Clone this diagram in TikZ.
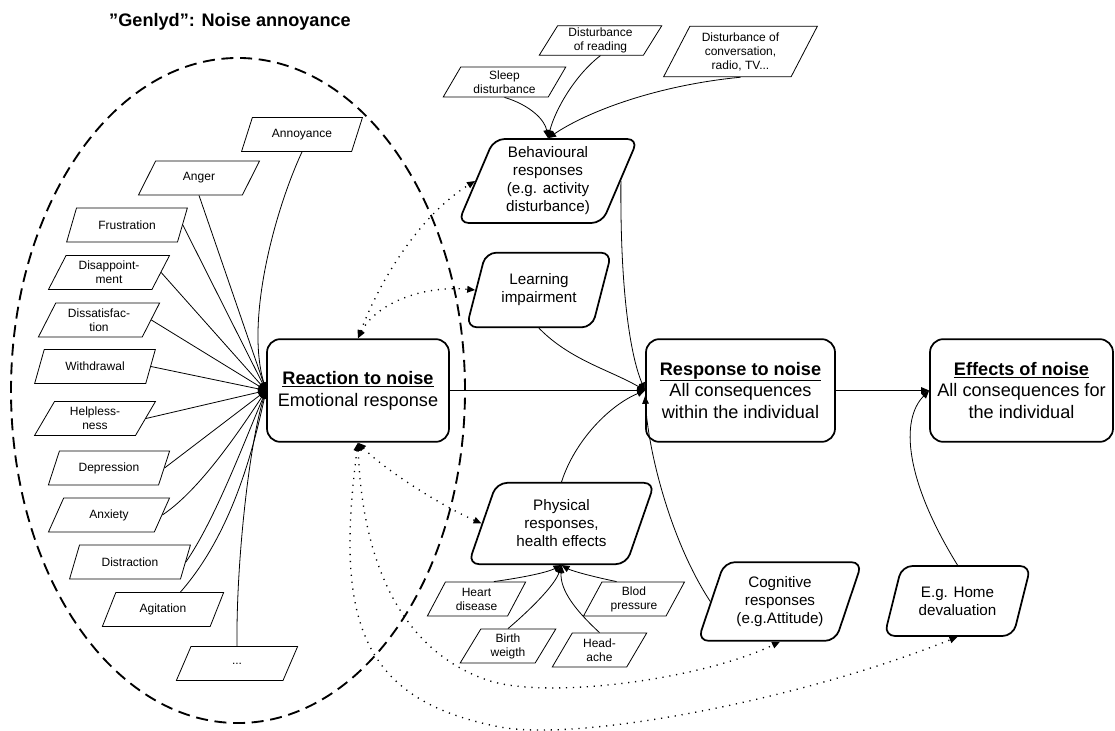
\documentclass[tikz,border=0pt]{standalone}
\usepackage{fontspec}
\setmainfont{Liberation Sans}
\usetikzlibrary{shapes.geometric, arrows.meta}

\begin{document}
\begin{tikzpicture}[
            x = 0.75pt, y = -0.75pt,
            > = {Triangle[length=6pt, width=5pt]},
  small/.style = {font=\fontsize{9}{10.5}\selectfont},
 medium/.style = {font=\fontsize{11.4}{13.5}\selectfont},
  large/.style = {font=\fontsize{13.6}{16.4}\selectfont},
   para/.style = {trapezium, trapezium left angle=63, trapezium right angle=117,
                  trapezium stretches=true, draw, line width=0.6pt,
                  inner sep=1pt, align=center, small,
                  minimum width=91pt, minimum height=25.5pt},
  rpara/.style = {trapezium, trapezium left angle=68, trapezium right angle=112,
                  trapezium stretches=true, draw, line width=1.3pt,
                  rounded corners=8pt, inner sep=1pt, align=center, medium},
   main/.style = {rectangle, draw, line width=1.3pt, rounded corners=10pt,
                  minimum height=77pt, align=center, large},
   link/.style = {line width=0.6pt, ->},
 mutual/.style = {line width=1pt, dash pattern=on 0.9pt off 4.3pt, <->}
                        ]
\useasboundingbox (0,0) rectangle (1115,731);
% title and the dashed ellipse round the emotions
\node[font=\fontsize{13.6}{16}\selectfont\bfseries] (title) at (230,22) {”Genlyd”: Noise annoyance};
\draw[line width=1.4pt, dash pattern=on 9pt off 5pt] (238,390.5) ellipse [x radius=170.25pt, y radius=249.4pt];
% main boxes
\node[main, minimum width=136.5pt] (reac) at (358,390.5) {\underline{\textbf{Reaction to noise}}\\Emotional response};
\node[main, minimum width=141.75pt] (resp) at (740.5,390.5) {\underline{\textbf{Response to noise}}\\All consequences\\within the individual};
\node[main, minimum width=137.25pt] (eff) at (1021.5,390.5) {\underline{\textbf{Effects of noise}}\\All consequences for\\the individual};
% emotions
\node[para] (ann) at (302,134.5) {Annoyance};
\node[para] (anger) at (199,178) {Anger};
\node[para] (frus) at (127,225) {Frustration};
\node[para] (disap) at (109,272.5) {Disappoint-\\ment};
\node[para] (dissat) at (99,320) {Dissatisfac-\\tion};
\node[para] (withd) at (95,366.5) {Withdrawal};
\node[para] (helpl) at (95,418.5) {Helpless-\\ness};
\node[para] (depr) at (109,468) {Depression};
\node[para] (anx) at (109,515) {Anxiety};
\node[para] (distr) at (130,562) {Distraction};
\node[para] (agit) at (163,609.5) {Agitation};
\node[para] (more) at (237,663.5) {...};
% responses
\node[rpara, minimum width=135pt, minimum height=63pt] (beh) at (548,181) {Behavioural\\responses\\(e.g. activity\\disturbance)};
\node[rpara, minimum width=109.5pt, minimum height=56pt] (learn) at (539,290) {Learning\\impairment};
\node[rpara, minimum width=140pt, minimum height=61pt] (phys) at (561.5,523.5) {Physical\\responses,\\health effects};
\node[rpara, minimum width=124pt, minimum height=59pt] (cog) at (780,601.5) {Cognitive\\responses\\(e.g.Attitude)};
\node[rpara, minimum width=110pt, minimum height=52.5pt] (home) at (957.5,601) {E.g. Home\\devaluation};
% activity disturbances
\node[para, minimum width=92pt, minimum height=22.5pt] (sleep) at (504.5,82) {Sleep\\disturbance};
\node[para, minimum width=92pt, minimum height=22pt] (read) at (600.5,40.5) {Disturbance\\of reading};
\node[para, minimum width=116pt, minimum height=38pt] (conv) at (740.5,51.5) {Disturbance of\\conversation,\\radio, TV...};
% health effects
\node[para, minimum width=74pt] (heart) at (476.5,599) {Heart\\disease};
\node[para, minimum width=72pt] (birth) at (508,646) {Birth\\weigth};
\node[para, minimum width=71pt] (head) at (599.5,650) {Head-\\ache};
\node[para, minimum width=76pt] (blod) at (634,599) {Blod\\pressure};
% emotions into the reaction
\draw[link] (ann.south) .. controls (275,210) and (245,320) .. (reac.west);
\draw[link] (anger.south) -- (reac.west);
\foreach \n in {frus, disap, dissat, withd, helpl, depr}
  \draw[link] (\n.east) -- (reac.west);
\draw[link] (anx.east) .. controls (200,490) and (240,430) .. (reac.west);
\draw[link] (distr.east) .. controls (215,520) and (245,440) .. (reac.west);
\draw[link] (agit.north east) .. controls (235,530) and (255,440) .. (reac.west);
\draw[link] (more.north) .. controls (236,560) and (250,440) .. (reac.west);
% main chain
\draw[link] (reac.east) -- (resp.west);
\draw[link] (resp.east) -- (eff.west);
\draw[link] (beh.east) .. controls (620,300) and (632,360) .. (resp.west);
\draw[link] (learn.south) .. controls (570,360) and (610,370) .. (resp.west);
\draw[link] (phys.north) .. controls (575,440) and (610,405) .. (resp.west);
\draw[link] (cog.west) .. controls (670,540) and (648,450) .. ([yshift=-4pt]resp.west);
\draw[link] (home.north) .. controls (905,480) and (900,420) .. (eff.west);
% into behaviour and physical responses
\draw[link] (sleep.south) .. controls (530,105) and (545,120) .. (beh.north);
\draw[link] (read.south) .. controls (575,75) and (555,110) .. (beh.north);
\draw[link] (conv.south) .. controls (660,85) and (590,110) .. (beh.north);
\draw[link] (heart.north east) .. controls (540,575) and (552,570) .. (phys.south);
\draw[link] (birth.north) .. controls (530,610) and (555,585) .. (phys.south);
\draw[link] (head.north) .. controls (575,610) and (560,590) .. (phys.south);
\draw[link] (blod.north west) .. controls (585,575) and (570,570) .. (phys.south);
% mutual influences of the reaction
\draw[mutual] (reac.north) .. controls (380,280) and (420,215) .. (beh.west);
\draw[mutual] (reac.north) .. controls (375,305) and (420,285) .. (learn.west);
\draw[mutual] (reac.south) .. controls (385,470) and (440,505) .. (phys.west);
\draw[mutual] (reac.south) .. controls (362,560) and (400,650) .. (487,680) .. controls (545,700) and (700,680) .. (cog.south);
\draw[mutual] (reac.south) .. controls (335,620) and (360,700) .. (500,727) .. controls (580,742) and (800,700) .. (home.south);
\end{tikzpicture}
\end{document}
